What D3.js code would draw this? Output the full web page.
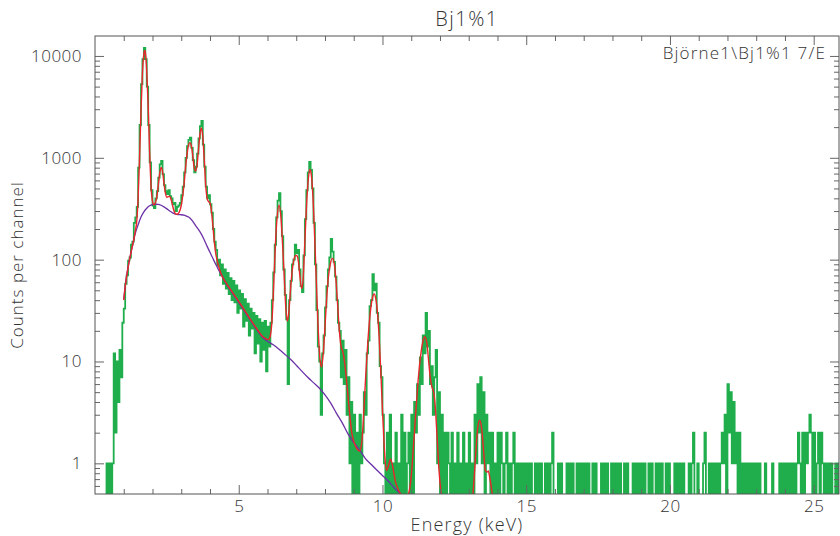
<!DOCTYPE html>
<html><head><meta charset="utf-8">
<script src="https://cdn.jsdelivr.net/npm/d3@7"></script>
<style>
body{margin:0;background:#fff;}
svg{display:block;}
text{font-family:"Open Sans","DejaVu Sans",sans-serif;font-weight:300;fill:#333;}
</style>
</head><body>
<svg id="c" width="840" height="536"></svg>
<script>
// ---------- text ----------
const title = "Bj1%1";
const fileLabel = "Björne1\\Bj1%1 7/E";
const xLabel = "Energy (keV)";
const yLabel = "Counts per channel";
const xTickValues = [5, 10, 15, 20, 25];
const yTickValues = [1, 10, 100, 1000, 10000];

// ---------- measured spectrum (counts per 0.05 keV channel, first channel starts at 0.35 keV) ----------
const chanStart = 0.35, chanWidth = 0.05;
const countsLowE = [
  0,1,0,1,0,1,12,2,10,4,13,7,24,                                         // 0.35-0.95
  33,58,70,98,105,140,150,230,260,330,800,2100,5300,9300,12000,9300,5000,2100,900,480, // 1
  340,320,400,470,640,860,930,690,540,470,440,480,420,400,350,360,300,330,340,360,      // 2
  430,520,720,1000,1300,1500,1580,1250,950,720,820,1100,1550,2050,2300,1350,820,520,400,430, // 3
  350,290,200,150,125,88,100,70,90,58,80,52,74,46,66,40,62,38,56,30      // 4
];
const countsMidE = [
  50,33,46,22,41,25,37,18,33,21,30,12,28,15,26,10,24,13,25,8,            // 5
  22,14,24,40,75,140,260,380,450,300,170,80,45,26,6,40,62,90,100,140,    // 6
  115,125,80,55,48,110,250,480,720,910,760,500,230,90,32,14,10,3,12,18,  // 7
  34,55,80,105,160,120,95,68,40,24,20,7,16,6,13,3,7,1,4,0,              // 8
  3,0,2,0,3,1,2,5,3,12,16,35,40,72,50,58,30,24,9,7,                      // 9
  3,1,0,2,0,3,0,1,0,2,0,1,0,3,0,2,0,1,2,0,                               // 10
  3,0,4,2,6,3,11,6,18,12,30,14,20,6,9,3,7,13,1,5,                        // 11
  0,3,0,2,0,2,1,0,2,0,1,0,2,0,1,0,2,0,1,0,                               // 12
  2,0,1,0,3,1,6,2,7,1,5,0,3,1,2,0,2,0,1,0                                // 13
];
const countsHighE = [
  2,0,2,1,0,1,2,0,1,0,1,2,0,1,0,1,0,1,0,1,   // 14
  0,1,0,1,0,0,1,0,1,0,1,0,0,1,0,1,0,1,2,0,   // 15
  0,0,1,0,1,0,0,0,1,0,1,0,1,0,0,1,0,1,0,1,   // 16
  0,1,0,1,0,0,1,0,1,0,0,0,1,0,1,0,1,0,0,1,   // 17
  0,1,0,1,0,1,0,0,1,0,1,0,0,0,1,0,1,0,1,0,   // 18
  1,0,1,0,0,1,0,1,0,0,1,0,1,0,1,0,0,1,0,1,   // 19
  0,0,0,1,0,1,0,1,0,1,0,0,0,1,0,1,2,0,0,1,   // 20
  0,0,0,1,2,0,0,1,0,1,0,1,0,1,0,1,2,1,3,0,   // 21
  6,2,5,1,4,1,2,0,2,0,1,0,1,0,1,0,1,0,1,0,   // 22
  1,0,1,0,0,0,1,0,0,0,0,1,0,0,0,0,1,0,1,0,   // 23
  1,0,1,0,1,0,1,0,1,2,1,0,2,0,2,1,2,3,2,0,   // 24
  2,0,1,2,0,2,1,0,1,0,1,0,1,0,0,1,0,1        // 25
];

// ---------- fitted spectrum (red) ----------
const fitEnergy = [1.00,1.05,1.10,1.15,1.20,1.25,1.30,1.35,1.40,1.45,1.50,1.55,1.60,1.65,1.70,1.73,1.76,1.80,1.85,1.90,1.95,
  2.00,2.05,2.10,2.15,2.20,2.25,2.30,2.35,2.40,2.45,2.50,2.55,2.60,2.65,2.70,2.75,2.80,2.85,2.90,2.95,
  3.00,3.05,3.10,3.15,3.20,3.25,3.30,3.35,3.40,3.45,3.50,3.55,3.60,3.65,3.70,3.75,3.80,3.85,3.90,3.95,
  4.00,4.05,4.10,4.15,4.20,4.25,4.30,4.40,4.60,4.80,5.00,5.20,5.40,5.60,5.80,5.90,6.00,6.04,6.10,6.16,
  6.22,6.28,6.34,6.40,6.46,6.52,6.58,6.64,6.69,6.74,6.80,6.86,6.92,6.98,7.03,7.08,7.13,7.19,7.24,7.30,
  7.36,7.42,7.47,7.52,7.58,7.64,7.70,7.76,7.82,7.88,7.94,8.00,8.06,8.12,8.19,8.26,8.32,8.38,8.44,8.50,
  8.56,8.62,8.68,8.74,8.80,8.86,8.92,9.00,9.10,9.20,9.28,9.35,9.42,9.50,9.58,9.65,9.71,9.77,9.84,9.90,
  9.96,10.02,10.08,10.14,10.21,10.28,10.35,10.44,10.55,10.66,10.78,10.90,11.00,11.08,11.16,11.24,11.32,
  11.40,11.47,11.54,11.60,11.66,11.72,11.78,11.84,11.90,11.96,12.04,12.12,12.60,13.08,13.16,13.24,13.31,
  13.38,13.45,13.52,13.58,13.64,13.68,13.74,13.82,13.90];
const fitCounts = [40,54,68,83,100,117,136,158,190,235,400,1000,2900,6800,10500,11300,10400,7000,3200,1150,520,
  375,345,362,410,530,700,805,730,560,450,410,415,418,388,338,300,282,279,284,302,
  340,420,560,800,1080,1320,1410,1320,1050,800,740,850,1200,1700,1960,1600,960,540,400,372,
  360,300,215,150,115,98,86,71,57,47,39,32,26,21.5,18,17,16.5,16.5,18,26,
  60,150,270,343,275,150,70,33,25,30,50,78,100,110,109,94,68,52,65,150,
  350,620,770,690,420,170,60,22,11,8.8,12,22,42,68,92,103,92,64,36,20,
  14,12.5,10,7,4.6,3.0,2.1,1.65,1.4,1.32,1.6,3.2,7.5,17,31,42,46,41,27,14,
  6,2.5,1.2,0.85,0.95,1.1,0.95,0.68,0.55,0.49,0.46,0.5,0.75,1.5,3.2,6.5,11,
  15.5,17.5,15.5,10.5,7,5.6,5.0,3.5,1.8,0.9,0.5,0.35,0.2,0.35,0.55,1.2,2.2,
  2.65,2.2,1.3,0.85,0.82,0.84,0.7,0.5,0.35];

// ---------- background (purple) ----------
const bgEnergy = [1.00,1.10,1.20,1.30,1.40,1.50,1.60,1.70,1.80,1.90,2.00,2.10,2.20,2.30,2.40,2.50,2.60,2.70,2.80,2.90,
  3.00,3.10,3.20,3.30,3.40,3.50,3.60,3.70,3.80,3.90,4.00,4.10,4.20,4.40,4.60,4.80,5.00,5.20,5.40,5.60,5.80,
  6.00,6.20,6.40,6.60,6.80,7.00,7.20,7.40,7.60,7.80,8.00,8.20,8.40,8.60,8.80,9.00,9.20,9.40,9.60,9.80,
  10.00,10.20,10.40,10.60,10.80];
const bgCounts = [41,70,100,135,180,220,262,295,320,338,347,350,349,342,330,315,300,288,280,277,
  276,273,266,257,238,216,197,178,156,135,118,103,90,70,56,46,38,31,25.5,21,17.6,
  15.8,14.6,13.2,11.8,10.5,9.2,8.0,7.0,6.2,5.5,4.7,3.9,3.1,2.5,1.95,1.6,1.36,1.12,0.98,0.86,
  0.76,0.67,0.58,0.51,0.45];

// ---------- drawing ----------
(function () {
const pL = 95, pR = 839, pT = 36, pB = 494;
const svg = d3.select("#c");
const x = d3.scaleLinear().domain([0, 25.88]).range([pL, pR]);
const y = d3.scaleLog().domain([0.5, 15700]).range([pB, pT]);
const floorVal = 0.3;

svg.append("defs").append("clipPath").attr("id", "plot")
  .append("rect").attr("x", pL).attr("y", pT).attr("width", pR - pL).attr("height", pB - pT);

const plot = svg.append("g").attr("clip-path", "url(#plot)");

const counts = [].concat(countsLowE, countsMidE, countsHighE);
const hist = counts.map((v, i) => [chanStart + i * chanWidth, v]);
hist.push([chanStart + counts.length * chanWidth, counts[counts.length - 1]]);

const stepLine = d3.line()
  .x(d => x(d[0])).y(d => y(Math.max(d[1], floorVal)))
  .curve(d3.curveStepAfter);
const smoothLine = d3.line()
  .x(d => x(d[0])).y(d => y(Math.max(d[1], 0.05)))
  .curve(d3.curveMonotoneX);

plot.append("path").datum(hist).attr("d", stepLine)
  .attr("fill", "none").attr("stroke", "#1fae4b").attr("stroke-width", 1.8);
plot.append("path").datum(bgEnergy.map((e, i) => [e, bgCounts[i]])).attr("d", smoothLine)
  .attr("fill", "none").attr("stroke", "#6c31a6").attr("stroke-width", 1.3);
plot.append("path").datum(fitEnergy.map((e, i) => [e, fitCounts[i]])).attr("d", smoothLine)
  .attr("fill", "none").attr("stroke", "#e8262b").attr("stroke-width", 1.4);

// axes
const xMinor = d3.range(1, 26).filter(v => v % 5 !== 0);
const yMinor = [0.6, 0.7, 0.8, 0.9];
for (let k = 0; k <= 4; k++) for (let m = 2; m <= 9; m++) { const v = m * Math.pow(10, k); if (v < 15700) yMinor.push(v); }

function style(g) {
  g.select(".domain").remove();
  g.selectAll("line").attr("stroke", "#666").attr("stroke-width", 1);
  g.selectAll("text").style("font-size", "17px").style("letter-spacing", "0.5px").attr("fill", "#333");
}
const fmt = d3.format("d");
svg.append("g").attr("transform", `translate(0,${pB})`)
  .call(d3.axisBottom(x).tickValues(xTickValues).tickSize(-9).tickPadding(6).tickFormat(fmt)).call(style);
svg.append("g").attr("transform", `translate(0,${pB})`)
  .call(d3.axisBottom(x).tickValues(xMinor).tickSize(-5).tickFormat("")).call(style);
svg.append("g").attr("transform", `translate(0,${pT})`)
  .call(d3.axisTop(x).tickValues(xTickValues).tickSize(-9).tickFormat("")).call(style);
svg.append("g").attr("transform", `translate(0,${pT})`)
  .call(d3.axisTop(x).tickValues(xMinor).tickSize(-5).tickFormat("")).call(style);
svg.append("g").attr("transform", `translate(${pL},0)`)
  .call(d3.axisLeft(y).tickValues(yTickValues).tickSize(-9).tickPadding(13).tickFormat(fmt)).call(style);
svg.append("g").attr("transform", `translate(${pL},0)`)
  .call(d3.axisLeft(y).tickValues(yMinor).tickSize(-5).tickFormat("")).call(style);
svg.append("g").attr("transform", `translate(${pR},0)`)
  .call(d3.axisRight(y).tickValues(yTickValues).tickSize(-9).tickFormat("")).call(style);
svg.append("g").attr("transform", `translate(${pR},0)`)
  .call(d3.axisRight(y).tickValues(yMinor).tickSize(-5).tickFormat("")).call(style);

svg.append("rect").attr("x", pL).attr("y", pT).attr("width", pR - pL).attr("height", pB - pT)
  .attr("fill", "none").attr("stroke", "#555").attr("stroke-width", 1);

// labels
svg.append("text").attr("x", (pL + pR) / 2).attr("y", 26).attr("text-anchor", "middle")
  .style("font-size", "20px").style("letter-spacing", "1.5px").text(title);
svg.append("text").attr("x", 826).attr("y", 59).attr("text-anchor", "end")
  .style("font-size", "17px").style("letter-spacing", "1.2px").text(fileLabel);
svg.append("text").attr("x", (pL + pR) / 2).attr("y", 531).attr("text-anchor", "middle")
  .style("font-size", "18px").style("letter-spacing", "1.2px").text(xLabel);
svg.append("text").attr("transform", `translate(23,${(pT + pB) / 2}) rotate(-90)`).attr("text-anchor", "middle")
  .style("font-size", "17px").style("letter-spacing", "1px").text(yLabel);
})();
</script>
</body></html>
